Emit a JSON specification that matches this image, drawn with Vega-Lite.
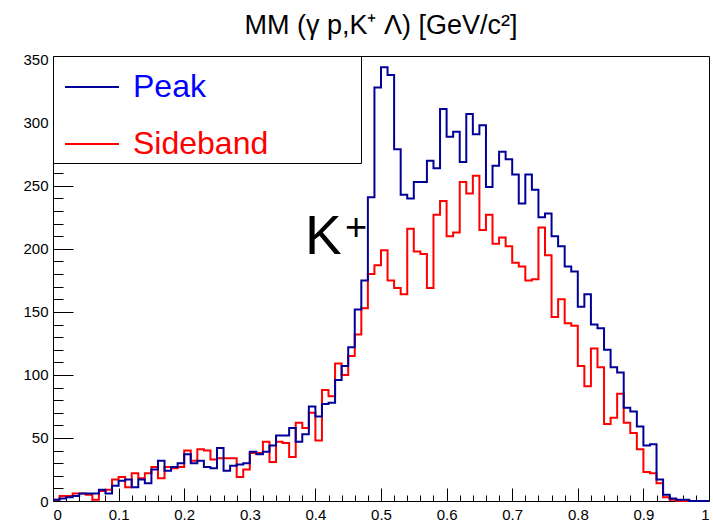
{
 "$schema": "https://vega.github.io/schema/vega-lite/v6.json",
 "width": 656, "height": 445,
 "autosize": {"type": "none"},
 "padding": {"left": 53, "top": 56, "right": 4, "bottom": 22},
 "background": "white",
 "title": {"text": "MM (γ p,K⁺ Λ) [GeV/c²]", "fontSize": 27, "font": "Liberation Sans", "fontWeight": "normal", "color": "#000", "offset": 13, "anchor": "middle"},
 "config": {
  "view": {"stroke": "#000", "strokeWidth": 1},
  "font": "Liberation Sans",
  "axis": {"domain": false, "grid": false, "labelFont": "Liberation Sans", "labelFontSize": 15, "labelColor": "#000", "tickColor": "#000", "title": null}
 },
 "datasets": {
  "hist": [
   {"series":"Sideband","x":0.00,"count":1},{"series":"Sideband","x":0.01,"count":4},{"series":"Sideband","x":0.02,"count":4},{"series":"Sideband","x":0.03,"count":6},{"series":"Sideband","x":0.04,"count":6},{"series":"Sideband","x":0.05,"count":5},{"series":"Sideband","x":0.06,"count":1},{"series":"Sideband","x":0.07,"count":8},{"series":"Sideband","x":0.08,"count":9},{"series":"Sideband","x":0.09,"count":17},
   {"series":"Sideband","x":0.10,"count":19},{"series":"Sideband","x":0.11,"count":11},{"series":"Sideband","x":0.12,"count":22},{"series":"Sideband","x":0.13,"count":18},{"series":"Sideband","x":0.14,"count":22},{"series":"Sideband","x":0.15,"count":27},{"series":"Sideband","x":0.16,"count":18},{"series":"Sideband","x":0.17,"count":27},{"series":"Sideband","x":0.18,"count":26},{"series":"Sideband","x":0.19,"count":27},
   {"series":"Sideband","x":0.20,"count":40},{"series":"Sideband","x":0.21,"count":32},{"series":"Sideband","x":0.22,"count":41},{"series":"Sideband","x":0.23,"count":40},{"series":"Sideband","x":0.24,"count":33},{"series":"Sideband","x":0.25,"count":34},{"series":"Sideband","x":0.26,"count":34},{"series":"Sideband","x":0.27,"count":34},{"series":"Sideband","x":0.28,"count":19},{"series":"Sideband","x":0.29,"count":25},
   {"series":"Sideband","x":0.30,"count":38},{"series":"Sideband","x":0.31,"count":38},{"series":"Sideband","x":0.32,"count":47},{"series":"Sideband","x":0.33,"count":31},{"series":"Sideband","x":0.34,"count":47},{"series":"Sideband","x":0.35,"count":46},{"series":"Sideband","x":0.36,"count":35},{"series":"Sideband","x":0.37,"count":62},{"series":"Sideband","x":0.38,"count":58},{"series":"Sideband","x":0.39,"count":70},
   {"series":"Sideband","x":0.40,"count":48},{"series":"Sideband","x":0.41,"count":88},{"series":"Sideband","x":0.42,"count":83},{"series":"Sideband","x":0.43,"count":109},{"series":"Sideband","x":0.44,"count":100},{"series":"Sideband","x":0.45,"count":115},{"series":"Sideband","x":0.46,"count":132},{"series":"Sideband","x":0.47,"count":153},{"series":"Sideband","x":0.48,"count":180},{"series":"Sideband","x":0.49,"count":187},
   {"series":"Sideband","x":0.50,"count":199},{"series":"Sideband","x":0.51,"count":175},{"series":"Sideband","x":0.52,"count":169},{"series":"Sideband","x":0.53,"count":164},{"series":"Sideband","x":0.54,"count":216},{"series":"Sideband","x":0.55,"count":198},{"series":"Sideband","x":0.56,"count":196},{"series":"Sideband","x":0.57,"count":169},{"series":"Sideband","x":0.58,"count":227},{"series":"Sideband","x":0.59,"count":238},
   {"series":"Sideband","x":0.60,"count":210},{"series":"Sideband","x":0.61,"count":213},{"series":"Sideband","x":0.62,"count":253},{"series":"Sideband","x":0.63,"count":244},{"series":"Sideband","x":0.64,"count":258},{"series":"Sideband","x":0.65,"count":215},{"series":"Sideband","x":0.66,"count":227},{"series":"Sideband","x":0.67,"count":204},{"series":"Sideband","x":0.68,"count":209},{"series":"Sideband","x":0.69,"count":202},
   {"series":"Sideband","x":0.70,"count":189},{"series":"Sideband","x":0.71,"count":186},{"series":"Sideband","x":0.72,"count":175},{"series":"Sideband","x":0.73,"count":176},{"series":"Sideband","x":0.74,"count":217},{"series":"Sideband","x":0.75,"count":195},{"series":"Sideband","x":0.76,"count":146},{"series":"Sideband","x":0.77,"count":160},{"series":"Sideband","x":0.78,"count":141},{"series":"Sideband","x":0.79,"count":139},
   {"series":"Sideband","x":0.80,"count":107},{"series":"Sideband","x":0.81,"count":91},{"series":"Sideband","x":0.82,"count":121},{"series":"Sideband","x":0.83,"count":106},{"series":"Sideband","x":0.84,"count":61},{"series":"Sideband","x":0.85,"count":66},{"series":"Sideband","x":0.86,"count":85},{"series":"Sideband","x":0.87,"count":62},{"series":"Sideband","x":0.88,"count":54},{"series":"Sideband","x":0.89,"count":41},
   {"series":"Sideband","x":0.90,"count":23},{"series":"Sideband","x":0.91,"count":22},{"series":"Sideband","x":0.92,"count":14},{"series":"Sideband","x":0.93,"count":3},{"series":"Sideband","x":0.94,"count":1},{"series":"Sideband","x":0.95,"count":0},{"series":"Sideband","x":0.96,"count":0},{"series":"Sideband","x":0.97,"count":0},{"series":"Sideband","x":0.98,"count":0},{"series":"Sideband","x":0.99,"count":0},
   {"series":"Sideband","x":1.00,"count":0},
   {"series":"Peak","x":0.00,"count":1},{"series":"Peak","x":0.01,"count":2},{"series":"Peak","x":0.02,"count":3},{"series":"Peak","x":0.03,"count":4},{"series":"Peak","x":0.04,"count":6},{"series":"Peak","x":0.05,"count":6},{"series":"Peak","x":0.06,"count":6},{"series":"Peak","x":0.07,"count":9},{"series":"Peak","x":0.08,"count":6},{"series":"Peak","x":0.09,"count":12},
   {"series":"Peak","x":0.10,"count":16},{"series":"Peak","x":0.11,"count":17},{"series":"Peak","x":0.12,"count":11},{"series":"Peak","x":0.13,"count":17},{"series":"Peak","x":0.14,"count":14},{"series":"Peak","x":0.15,"count":25},{"series":"Peak","x":0.16,"count":32},{"series":"Peak","x":0.17,"count":24},{"series":"Peak","x":0.18,"count":27},{"series":"Peak","x":0.19,"count":30},
   {"series":"Peak","x":0.20,"count":37},{"series":"Peak","x":0.21,"count":30},{"series":"Peak","x":0.22,"count":32},{"series":"Peak","x":0.23,"count":27},{"series":"Peak","x":0.24,"count":26},{"series":"Peak","x":0.25,"count":42},{"series":"Peak","x":0.26,"count":24},{"series":"Peak","x":0.27,"count":28},{"series":"Peak","x":0.28,"count":29},{"series":"Peak","x":0.29,"count":30},
   {"series":"Peak","x":0.30,"count":39},{"series":"Peak","x":0.31,"count":37},{"series":"Peak","x":0.32,"count":39},{"series":"Peak","x":0.33,"count":44},{"series":"Peak","x":0.34,"count":52},{"series":"Peak","x":0.35,"count":52},{"series":"Peak","x":0.36,"count":58},{"series":"Peak","x":0.37,"count":47},{"series":"Peak","x":0.38,"count":53},{"series":"Peak","x":0.39,"count":75},
   {"series":"Peak","x":0.40,"count":67},{"series":"Peak","x":0.41,"count":77},{"series":"Peak","x":0.42,"count":78},{"series":"Peak","x":0.43,"count":96},{"series":"Peak","x":0.44,"count":107},{"series":"Peak","x":0.45,"count":122},{"series":"Peak","x":0.46,"count":152},{"series":"Peak","x":0.47,"count":175},{"series":"Peak","x":0.48,"count":241},{"series":"Peak","x":0.49,"count":328},
   {"series":"Peak","x":0.50,"count":344},{"series":"Peak","x":0.51,"count":338},{"series":"Peak","x":0.52,"count":279},{"series":"Peak","x":0.53,"count":243},{"series":"Peak","x":0.54,"count":240},{"series":"Peak","x":0.55,"count":253},{"series":"Peak","x":0.56,"count":253},{"series":"Peak","x":0.57,"count":270},{"series":"Peak","x":0.58,"count":264},{"series":"Peak","x":0.59,"count":311},
   {"series":"Peak","x":0.60,"count":289},{"series":"Peak","x":0.61,"count":293},{"series":"Peak","x":0.62,"count":269},{"series":"Peak","x":0.63,"count":307},{"series":"Peak","x":0.64,"count":291},{"series":"Peak","x":0.65,"count":298},{"series":"Peak","x":0.66,"count":249},{"series":"Peak","x":0.67,"count":266},{"series":"Peak","x":0.68,"count":277},{"series":"Peak","x":0.69,"count":271},
   {"series":"Peak","x":0.70,"count":259},{"series":"Peak","x":0.71,"count":236},{"series":"Peak","x":0.72,"count":259},{"series":"Peak","x":0.73,"count":247},{"series":"Peak","x":0.74,"count":225},{"series":"Peak","x":0.75,"count":228},{"series":"Peak","x":0.76,"count":210},{"series":"Peak","x":0.77,"count":202},{"series":"Peak","x":0.78,"count":186},{"series":"Peak","x":0.79,"count":182},
   {"series":"Peak","x":0.80,"count":154},{"series":"Peak","x":0.81,"count":164},{"series":"Peak","x":0.82,"count":140},{"series":"Peak","x":0.83,"count":137},{"series":"Peak","x":0.84,"count":120},{"series":"Peak","x":0.85,"count":106},{"series":"Peak","x":0.86,"count":102},{"series":"Peak","x":0.87,"count":74},{"series":"Peak","x":0.88,"count":71},{"series":"Peak","x":0.89,"count":59},
   {"series":"Peak","x":0.90,"count":44},{"series":"Peak","x":0.91,"count":45},{"series":"Peak","x":0.92,"count":17},{"series":"Peak","x":0.93,"count":5},{"series":"Peak","x":0.94,"count":2},{"series":"Peak","x":0.95,"count":1},{"series":"Peak","x":0.96,"count":1},{"series":"Peak","x":0.97,"count":0},{"series":"Peak","x":0.98,"count":0},{"series":"Peak","x":0.99,"count":0},
   {"series":"Peak","x":1.00,"count":0}
  ],
  "ann": [{"label":"K","x":0.384,"y":196},{"label":"+","x":0.462,"y":216}]
 },
 "resolve": {"axis": {"x": "independent", "y": "independent"}},
 "layer": [
  {
   "data": {"name": "hist"},
   "transform": [{"filter": "datum.series == 'Sideband'"}],
   "mark": {"type": "line", "interpolate": "step-after", "strokeWidth": 2},
   "encoding": {
    "x": {"field": "x", "type": "quantitative", "scale": {"domain": [0, 1], "nice": false, "zero": false},
          "axis": {"orient": "bottom", "values": [0,0.1,0.2,0.3,0.4,0.5,0.6,0.7,0.8,0.9,1], "format": "~g", "tickSize": -13, "labelPadding": 19}},
    "y": {"field": "count", "type": "quantitative", "scale": {"domain": [0, 353], "nice": false},
          "axis": {"orient": "left", "values": [0,50,100,150,200,250,300,350], "tickSize": -20, "labelPadding": 25}},
    "color": {"field": "series", "type": "nominal",
              "scale": {"domain": ["Peak", "Sideband"], "range": ["#000099", "#ff0000"]},
              "legend": {"title": null, "orient": "top-left", "offset": 0, "fillColor": "white", "strokeColor": "#000",
                         "padding": 3, "labelFontSize": 32, "labelFont": "Liberation Sans",
                         "labelColor": {"expr": "datum.value == 'Peak' ? '#0000ff' : '#ff0000'"},
                         "labelExpr": "datum.label + '\u00a0\u00a0\u00a0\u00a0\u00a0\u00a0\u00a0\u00a0\u00a0\u00a0\u200b'",
                         "symbolType": "stroke", "symbolSize": 2916, "symbolStrokeWidth": 2, "symbolOffset": 8, "rowPadding": 13, "labelOffset": 13, "labelLimit": 400}}
   }
  },
  {
   "data": {"name": "hist"},
   "transform": [{"filter": "datum.series == 'Peak'"}],
   "mark": {"type": "line", "interpolate": "step-after", "strokeWidth": 2},
   "encoding": {
    "x": {"field": "x", "type": "quantitative", "axis": null},
    "y": {"field": "count", "type": "quantitative", "axis": null},
    "color": {"field": "series", "type": "nominal"}
   }
  },
  {
   "data": {"name": "ann"},
   "transform": [{"filter": "datum.label == 'K'"}],
   "mark": {"type": "text", "fontSize": 55, "align": "left", "baseline": "alphabetic", "color": "#000", "font": "Liberation Sans"},
   "encoding": {
    "x": {"field": "x", "type": "quantitative",
          "axis": {"orient": "bottom", "values": [0.02,0.04,0.06,0.08,0.12,0.14,0.16,0.18,0.22,0.24,0.26,0.28,0.32,0.34,0.36,0.38,0.42,0.44,0.46,0.48,0.52,0.54,0.56,0.58,0.62,0.64,0.66,0.68,0.72,0.74,0.76,0.78,0.82,0.84,0.86,0.88,0.92,0.94,0.96,0.98], "labels": false, "tickSize": -6}},
    "y": {"field": "y", "type": "quantitative",
          "axis": {"orient": "left", "values": [10,20,30,40,60,70,80,90,110,120,130,140,160,170,180,190,210,220,230,240,260,270,280,290,310,320,330,340], "labels": false, "tickSize": -10}},
    "text": {"field": "label"}
   }
  },
  {
   "data": {"name": "ann"},
   "transform": [{"filter": "datum.label == '+'"}],
   "mark": {"type": "text", "fontSize": 38, "align": "center", "baseline": "middle", "color": "#000", "font": "Liberation Sans"},
   "encoding": {
    "x": {"field": "x", "type": "quantitative", "axis": null},
    "y": {"field": "y", "type": "quantitative", "axis": null},
    "text": {"field": "label"}
   }
  }
 ]
}
